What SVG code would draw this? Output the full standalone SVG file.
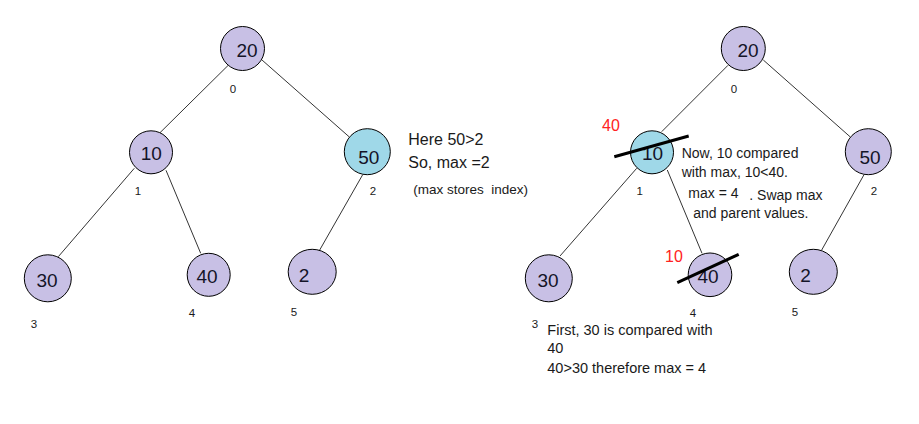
<svg xmlns="http://www.w3.org/2000/svg" width="919" height="424" viewBox="0 0 919 424">
<style>
.n{fill:#c8c0e5;stroke:#000;stroke-width:1}
.c{fill:#9fd8e8;stroke:#000;stroke-width:1}
.v{font-family:"Liberation Sans",Arial,sans-serif;font-size:19px;fill:#141428;text-anchor:middle}
.i{font-family:"Liberation Sans",Arial,sans-serif;font-size:11.5px;fill:#1a1a1a;text-anchor:middle}
.t{font-family:"Liberation Sans",Arial,sans-serif;font-size:14px;fill:#1a1a1a;white-space:pre}
.b{font-family:"Liberation Sans",Arial,sans-serif;font-size:16px;fill:#1a1a1a}
.r{font-family:"Liberation Sans",Arial,sans-serif;font-size:16px;fill:#ff2222}
.e{stroke:#000;stroke-width:0.8;fill:none}
.s{stroke:#000;stroke-width:3;fill:none}
</style>
<rect width="919" height="424" fill="#fff"/>
<g id="connectors">
<line class="e" x1="228" y1="65.5" x2="160" y2="132.7"/>
<line class="e" x1="262" y1="60" x2="349" y2="136.7"/>
<line class="e" x1="134.3" y1="168.3" x2="58.3" y2="256.7"/>
<line class="e" x1="166" y1="170.3" x2="200.7" y2="253.3"/>
<line class="e" x1="362.7" y1="174.7" x2="319.3" y2="250.7"/>
<line class="e" x1="728" y1="65.3" x2="661.7" y2="131.7"/>
<line class="e" x1="763.3" y1="60" x2="850" y2="136.7"/>
<line class="e" x1="636.7" y1="168.3" x2="560" y2="256"/>
<line class="e" x1="667.3" y1="170" x2="702" y2="253.3"/>
<line class="e" x1="864" y1="174.7" x2="821.7" y2="250"/>
</g>
<g id="L20"><circle class="n" cx="242.5" cy="48.5" r="22"/><text class="v" x="247" y="57">20</text><text class="i" x="233" y="93">0</text></g>
<g id="L10"><circle class="n" cx="151" cy="152.3" r="21.5"/><text class="v" x="151.3" y="160">10</text><text class="i" x="138" y="195">1</text></g>
<g id="L50"><circle class="c" cx="367.3" cy="151.7" r="23"/><text class="v" x="368.7" y="164">50</text><text class="i" x="373" y="195">2</text></g>
<g id="L30"><circle class="n" cx="47.8" cy="278.3" r="23.5"/><text class="v" x="47" y="287">30</text><text class="i" x="34" y="328">3</text></g>
<g id="L40"><circle class="n" cx="208.7" cy="274.8" r="21.5" ry="22.5"/><text class="v" x="207" y="283.3">40</text><text class="i" x="192" y="317">4</text></g>
<g id="L2"><ellipse class="n" cx="312.2" cy="271.8" rx="24" ry="22.5"/><text class="v" x="304" y="281.7">2</text><text class="i" x="294" y="316">5</text></g>
<g id="note1">
<text class="b" x="408.3" y="145">Here 50&gt;2</text>
<text class="b" x="408.3" y="168.3">So, max =2</text>
<text class="t" x="413.3" y="194" style="font-size:13.5px">(max stores  index)</text>
</g>
<g id="R20"><circle class="n" cx="743.3" cy="48.5" r="22"/><text class="v" x="748" y="57">20</text><text class="i" x="734" y="93">0</text></g>
<g id="R10"><circle class="c" cx="652" cy="152.3" r="21.5"/><text class="v" x="652.5" y="160">10</text><text class="i" x="639.7" y="195">1</text></g>
<g id="R50"><circle class="n" cx="868.3" cy="151.7" r="23"/><text class="v" x="870" y="164">50</text><text class="i" x="874" y="195">2</text></g>
<g id="R30"><circle class="n" cx="548.8" cy="278.3" r="23.5"/><text class="v" x="548" y="286.7">30</text><text class="i" x="535" y="328">3</text></g>
<g id="R40"><circle class="n" cx="710" cy="274.8" r="21.8"/><text class="v" x="708" y="283.3">40</text><text class="i" x="693" y="317">4</text></g>
<g id="R2"><ellipse class="n" cx="813.3" cy="271.8" rx="24" ry="22.5"/><text class="v" x="805.5" y="282">2</text><text class="i" x="795" y="316">5</text></g>
<g id="strikes">
<line class="s" x1="614.3" y1="156.7" x2="688.7" y2="136"/>
<line class="s" x1="677.3" y1="282.7" x2="738.7" y2="254.3"/>
</g>
<g id="note2">
<text class="r" x="602" y="130.7">40</text>
<text class="r" x="665" y="261.7">10</text>
<text class="t" x="681.7" y="158.3">Now, 10 compared</text>
<text class="t" x="681.7" y="176.7">with max, 10&lt;40.</text>
<text class="t" x="688.3" y="198.3">max = 4</text>
<text class="t" x="749.3" y="200">. Swap max</text>
<text class="t" x="693.3" y="218.3">and parent values.</text>
<text class="t" x="547.3" y="335" style="font-size:14.5px">First, 30 is compared with</text>
<text class="t" x="547.3" y="353.3" style="font-size:14.5px">40</text>
<text class="t" x="547.3" y="372.7" style="font-size:14.5px">40&gt;30 therefore max = 4</text>
</g>
</svg>
